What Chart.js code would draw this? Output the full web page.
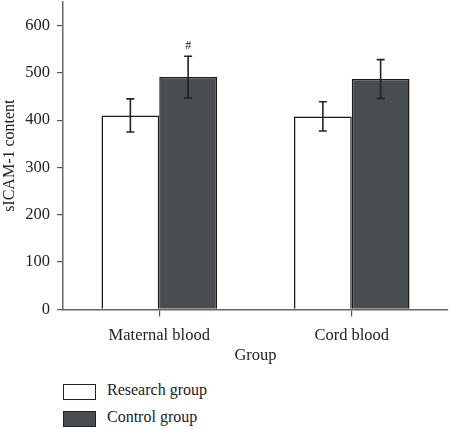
<!DOCTYPE html>
<html>
<head>
<meta charset="utf-8">
<script src="https://cdn.jsdelivr.net/npm/chart.js@4"></script>
<style>
  body { margin: 0; background: #fff; overflow: hidden; }
  #wrap { position: relative; width: 449px; height: 429px; overflow: hidden; }
  #chart-box { position: absolute; left: 0; top: -15px; width: 449px; height: 383px; }
  .legend-item { position: absolute; left: 63px; height: 17px; font: 16px "Liberation Serif", serif; color: #222; }
  .legend-item span.box { position: absolute; left: 0; top: 0; width: 31px; height: 14px; border: 1.5px solid #222; }
  .legend-item span.lbl { position: absolute; left: 44px; top: -3px; white-space: nowrap; }
</style>
</head>
<body>
<div id="wrap">
  <div id="chart-box"><canvas id="chart"></canvas></div>
  <div id="legend"></div>
</div>
<script>
const categories = ["Maternal blood", "Cord blood"];
const seriesNames = ["Research group", "Control group"];
const researchMeans = [410, 408];
const researchErrors = [35, 31];
const controlMeans = [491, 487];
const controlErrors = [44, 41];
const controlMarks = ["#", ""];
const yTicks = [0, 100, 200, 300, 400, 500, 600];

const fillColors = ["#ffffff", "#4a4d50"];
const errors = [researchErrors, controlErrors];
const marks = [["", ""], controlMarks];

// error bars and the "#" mark, placed from the library's own scales
const errorBarPlugin = {
  id: "errorBars",
  afterDatasetsDraw(chart) {
    const ctx = chart.ctx;
    const y = chart.scales.y;
    ctx.save();
    ctx.strokeStyle = "#222";
    ctx.lineWidth = 1.6;
    chart.data.datasets.forEach((ds, di) => {
      const meta = chart.getDatasetMeta(di);
      meta.data.forEach((bar, i) => {
        const v = ds.data[i];
        const e = errors[di][i];
        const top = y.getPixelForValue(v + e);
        const bot = y.getPixelForValue(v - e);
        ctx.beginPath();
        ctx.moveTo(bar.x, top);
        ctx.lineTo(bar.x, bot);
        ctx.moveTo(bar.x - 4, top);
        ctx.lineTo(bar.x + 4, top);
        ctx.moveTo(bar.x - 4, bot);
        ctx.lineTo(bar.x + 4, bot);
        ctx.stroke();
        if (marks[di][i]) {
          ctx.fillStyle = "#222";
          ctx.font = "12px 'Liberation Serif', serif";
          ctx.textAlign = "center";
          ctx.textBaseline = "bottom";
          ctx.fillText(marks[di][i], bar.x, top - 4);
        }
      });
    });
    ctx.restore();
  }
};

new Chart(document.getElementById("chart"), {
  type: "bar",
  data: {
    labels: categories,
    datasets: [
      { label: seriesNames[0], data: researchMeans, backgroundColor: fillColors[0] },
      { label: seriesNames[1], data: controlMeans, backgroundColor: fillColors[1] }
    ]
  },
  options: {
    responsive: true,
    maintainAspectRatio: false,
    animation: false,
    layout: { padding: { top: 0, right: 1, bottom: 0, left: 0 } },
    datasets: {
      bar: {
        borderColor: "#1a1a1a",
        borderWidth: 1.5,
        categoryPercentage: 0.6,
        barPercentage: 1.0
      }
    },
    plugins: {
      legend: { display: false },
      tooltip: { enabled: false }
    },
    scales: {
      x: {
        afterFit: (axis) => { axis.height -= 8; },
        grid: { display: true, drawOnChartArea: false, offset: false, tickLength: 7, color: "#555", lineWidth: 1.2 },
        border: { color: "#666", width: 1.5 },
        ticks: { color: "#222", font: { family: "'Liberation Serif', serif", size: 16.5 }, padding: 9 },
        title: { display: true, text: "Group", color: "#222", font: { family: "'Liberation Serif', serif", size: 16.5 }, padding: { top: 0, bottom: 2 } }
      },
      y: {
        min: 0,
        max: 650,
        afterBuildTicks: (axis) => { axis.ticks = yTicks.map(v => ({ value: v })); },
        afterFit: (axis) => { axis.width = 63; },
        grid: { display: true, drawOnChartArea: false, tickLength: 6, color: "#555", lineWidth: 1.2 },
        border: { color: "#666", width: 1.5 },
        ticks: { color: "#222", font: { family: "'Liberation Serif', serif", size: 16.5 }, padding: 7 },
        title: { display: true, text: "sICAM-1 content", color: "#222", font: { family: "'Liberation Serif', serif", size: 16 }, padding: { top: 0, bottom: 2 } }
      }
    }
  },
  plugins: [errorBarPlugin]
});

// legend below the chart, stacked vertically like the reference
const legend = document.getElementById("legend");
seriesNames.forEach((name, i) => {
  const item = document.createElement("div");
  item.className = "legend-item";
  item.style.top = (384 + i * 27) + "px";
  item.innerHTML = '<span class="box" style="background:' + fillColors[i] + '"></span><span class="lbl">' + name + '</span>';
  legend.appendChild(item);
});
</script>
</body>
</html>
